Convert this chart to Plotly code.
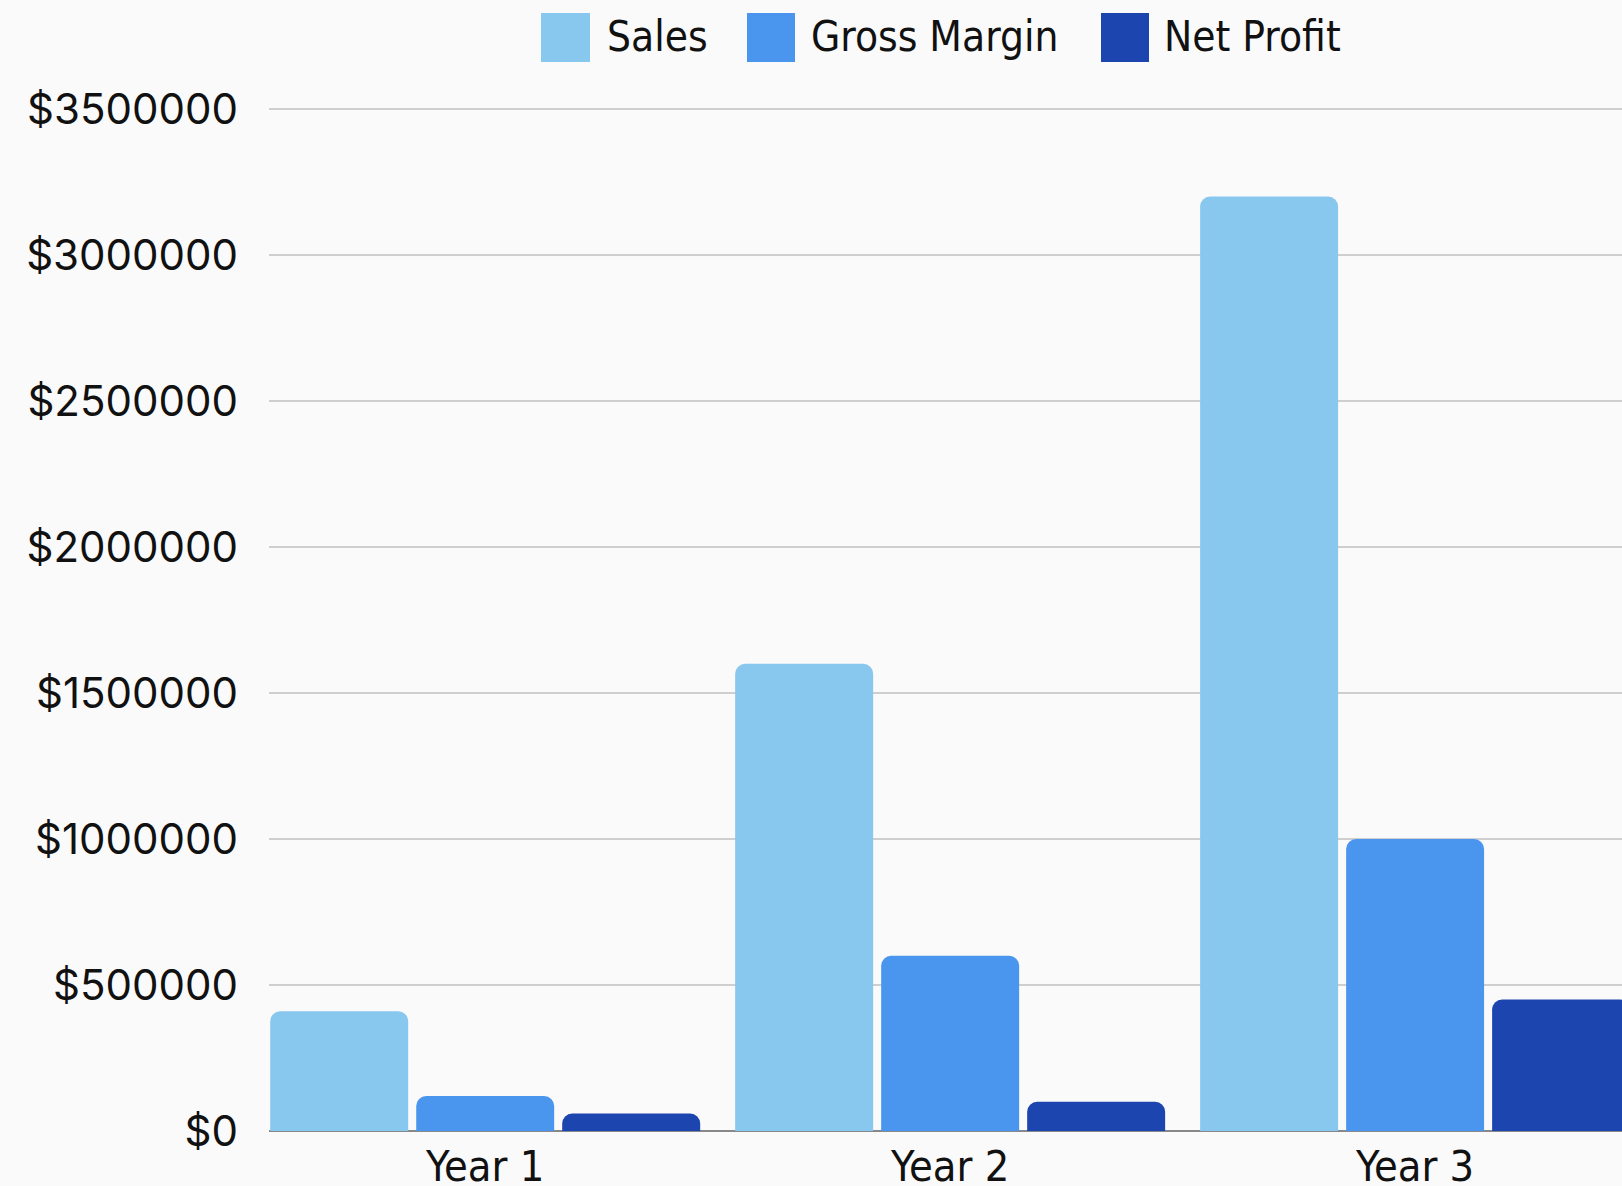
import plotly.graph_objects as go

categories = ["Year 1", "Year 2", "Year 3"]
sales = [410000, 1600000, 3200000]
gross_margin = [120000, 600000, 1000000]
net_profit = [60000, 100000, 450000]
series_names = ["Sales", "Gross Margin", "Net Profit"]
series_colors = ["#88C7EE", "#4A96EE", "#1C45AF"]
y_ticks = [0, 500000, 1000000, 1500000, 2000000, 2500000, 3000000, 3500000]
y_tick_labels = ["$" + str(v) for v in y_ticks]

W, H = 1622, 1186
L, T, B, R = 269, 108, 55, 0
PW, PH = W - L - R, H - T - B

def px_x(q):
    return (q - L) / PW

def px_y(p):
    return (H - B - p) / PH

cond_font = "Liberation Sans Narrow, DejaVu Sans Condensed, Roboto, sans-serif"

fig = go.Figure()
for name, vals, col in zip(series_names, [sales, gross_margin, net_profit], series_colors):
    fig.add_trace(go.Bar(name=name, x=categories, y=vals, marker_color=col,
                         marker_line_width=0, showlegend=False))

# custom legend (large swatches)
legend_swatches = [(541, 590, 605), (747, 795, 809), (1101, 1149, 1162)]
for (x0, x1, tx), name, col in zip(legend_swatches, series_names, series_colors):
    fig.add_shape(type="rect", xref="paper", yref="paper",
                  x0=px_x(x0), x1=px_x(x1), y0=px_y(62), y1=px_y(13),
                  fillcolor=col, line_width=0, layer="above")
    fig.add_annotation(xref="paper", yref="paper", x=px_x(tx), y=px_y(36),
                       xanchor="left", yanchor="middle", text=name, showarrow=False,
                       font=dict(family=cond_font, size=42, color="#111111"))

fig.update_layout(
    width=W, height=H,
    margin=dict(l=L, r=R, t=T, b=B, pad=0, autoexpand=False),
    paper_bgcolor="#FAFAFA", plot_bgcolor="#FAFAFA",
    barmode="group", bargap=0.058, bargroupgap=0.055,
    barcornerradius=10,
    showlegend=False,
)
fig.update_xaxes(range=[-0.465, 2.445], showgrid=False, showline=False, automargin=False,
                 tickfont=dict(family=cond_font, size=43, color="#111111"),
                 ticks="", ticklabelstandoff=6)
fig.update_yaxes(range=[0, 3503500], tickvals=y_ticks, ticktext=y_tick_labels, automargin=False,
                 showgrid=True, gridcolor="#CFCFCF", gridwidth=1.5,
                 zeroline=True, zerolinecolor="#888888", zerolinewidth=1.5,
                 tickfont=dict(family="Inter, Open Sans, sans-serif", size=42, color="#111111"),
                 ticks="", ticklabelstandoff=30)

fig.write_html("out.html", config={"displayModeBar": False},
               post_script="document.body.style.margin='0';document.body.style.background='#FAFAFA';")
